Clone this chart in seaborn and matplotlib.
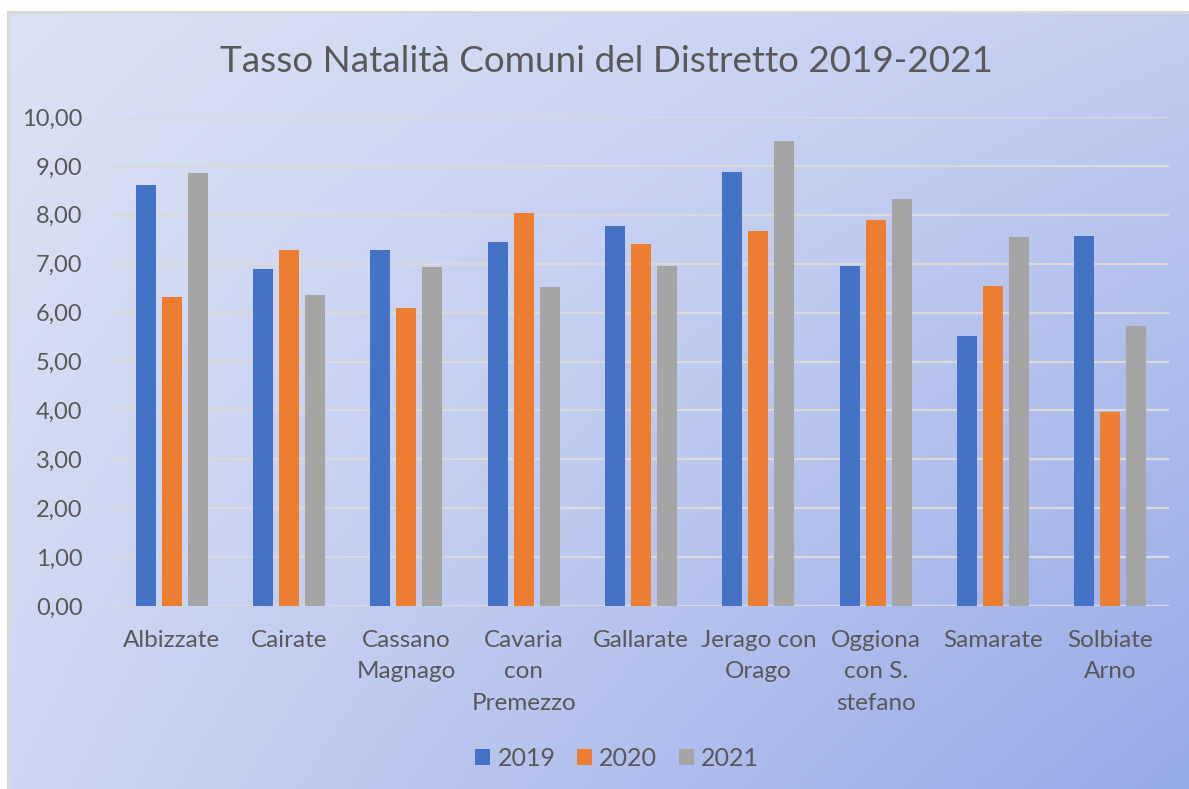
import numpy as np
import pandas as pd
import matplotlib
matplotlib.use("Agg")
import matplotlib.pyplot as plt
import seaborn as sns
from matplotlib.patches import Patch
from matplotlib.ticker import FuncFormatter, MultipleLocator

# ---------------- data ----------------
comuni = ["Albizzate", "Cairate", "Cassano\nMagnago", "Cavaria\ncon\nPremezzo",
          "Gallarate", "Jerago con\nOrago", "Oggiona\ncon S.\nstefano",
          "Samarate", "Solbiate\nArno"]
anni = ["2019", "2020", "2021"]
v2019 = [8.60, 6.90, 7.29, 7.45, 7.78, 8.88, 6.95, 5.52, 7.57]
v2020 = [6.32, 7.29, 6.10, 8.03, 7.40, 7.67, 7.89, 6.54, 3.97]
v2021 = [8.86, 6.35, 6.93, 6.52, 6.96, 9.51, 8.33, 7.54, 5.72]
colori = ["#4472C4", "#ED7D31", "#A5A5A5"]
titolo = "Tasso Natalità Comuni del Distretto 2019-2021"

df = pd.DataFrame({
    "Comune": comuni * 3,
    "Anno": [a for a in anni for _ in comuni],
    "Tasso": v2019 + v2020 + v2021,
})

sns.set_theme(style="white")
plt.rcParams["font.family"] = ["Lato", "DejaVu Sans"]

W, H = 1189, 789
fig = plt.figure(figsize=(W / 100, H / 100), dpi=100)
fig.patch.set_facecolor("white")

# ---------------- gradient background panel ----------------
bg = fig.add_axes([8 / W, 0, 1 - 8 / W, (H - 12) / H])
c_tl = np.array([0xDC, 0xE2, 0xF5]) / 255
c_tr = np.array([0xC3, 0xCD, 0xF0]) / 255
c_bl = np.array([0xCD, 0xD6, 0xF2]) / 255
c_br = np.array([0x95, 0xA9, 0xE7]) / 255
n = 200
u = np.linspace(0, 1, n)[None, :, None]
v = np.linspace(0, 1, n)[:, None, None]
img = (c_tl * (1 - u) * (1 - v) + c_tr * u * (1 - v)
       + c_bl * (1 - u) * v + c_br * u * v)
bg.imshow(img, extent=[0, 1, 0, 1], aspect="auto", origin="upper",
          interpolation="bilinear")
bg.set_xlim(0, 1)
bg.set_ylim(0, 1)
bg.set_xticks([])
bg.set_yticks([])
for s in ["right", "bottom"]:
    bg.spines[s].set_visible(False)
for s in ["left", "top"]:
    bg.spines[s].set_color("#D9D9D9")
    bg.spines[s].set_linewidth(2.2)

# ---------------- main plot ----------------
ax = fig.add_axes([113 / W, (H - 606) / H, (1169 - 113) / W, (606 - 117) / H])
ax.patch.set_alpha(0)
sns.barplot(data=df, x="Comune", y="Tasso", hue="Anno", order=comuni,
            hue_order=anni, palette=colori, saturation=1, width=0.665,
            gap=0.23, legend=False, ax=ax, linewidth=0, zorder=3)

ax.set_xlim(-0.5, len(comuni) - 0.5)
ax.set_ylim(0, 10)
ax.yaxis.set_major_locator(MultipleLocator(1))
ax.yaxis.set_major_formatter(FuncFormatter(lambda v, p: f"{v:.2f}".replace(".", ",")))
ax.grid(axis="y", color="#D9D9D9", linewidth=1.6, zorder=0)
ax.set_axisbelow(True)
for s in ax.spines.values():
    s.set_visible(False)
ax.axhline(0, color="#D9D9D9", linewidth=1.6, zorder=1)
ax.set_xlabel("")
ax.set_ylabel("")
ax.tick_params(axis="y", length=0, pad=22, labelsize=17, labelcolor="#595959")
ax.tick_params(axis="x", length=0, pad=17, labelsize=17.5, labelcolor="#595959")
for t in ax.get_xticklabels():
    t.set_linespacing(1.62)

fig.text(606 / W, 1 - 62 / H, titolo, ha="center", va="center",
         fontsize=26.6, color="#595959")

handles = [Patch(facecolor=c, edgecolor="none") for c in colori]
fig.legend(handles, anni, loc="center", bbox_to_anchor=(617 / W, 1 - 758 / H),
           ncol=3, frameon=False, fontsize=18, labelcolor="#595959",
           handlelength=0.6, handleheight=0.6, handletextpad=0.3,
           columnspacing=0.85)

fig.savefig("out.png", dpi=100)
